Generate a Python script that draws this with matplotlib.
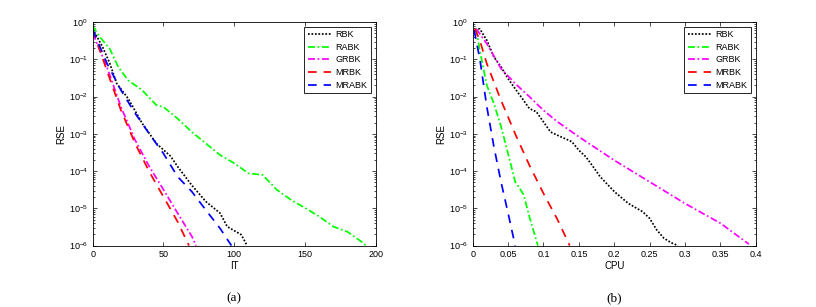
"""RSE 수렴 곡선 재현 — (a) 반복 횟수(IT), (b) CPU 시간 기준 5개 방법 비교."""

import matplotlib
matplotlib.use("Agg")
import matplotlib.pyplot as plt
import numpy as np

METHODS = ["RBK", "RABK", "GRBK", "MRBK", "MRABK"]

# (a) IT 축 — 각 방법의 (반복, log10 RSE) 판독값
rbk_it = [0, 7, 12, 17, 25, 35, 45, 55, 60, 70, 80, 90, 95, 105, 109]
rbk_it_y = [-0.18, -0.67, -1.1, -1.65, -2.05, -2.72, -3.26, -3.6, -3.88, -4.38, -4.82, -5.13, -5.49, -5.71, -6.0]
rabk_it = [0, 5, 12, 18, 25, 35, 45, 50, 60, 70, 80, 90, 100, 110, 120, 130, 140, 150, 160, 170, 180, 190, 193]
rabk_it_y = [-0.1, -0.4, -0.71, -1.2, -1.56, -1.83, -2.23, -2.28, -2.59, -2.95, -3.26, -3.57, -3.79, -4.06,
             -4.1, -4.5, -4.77, -4.99, -5.22, -5.49, -5.63, -5.9, -6.0]
grbk_it = [0, 10, 20, 30, 40, 50, 60, 70, 73]
grbk_it_y = [-0.3, -1.2, -2.28, -3.17, -3.88, -4.5, -5.13, -5.75, -6.0]
mrbk_it = [0, 10, 20, 30, 40, 50, 60, 68]
mrbk_it_y = [-0.2, -1.3, -2.37, -3.26, -4.02, -4.69, -5.36, -6.0]
mrabk_it = [0, 10, 20, 30, 40, 50, 60, 70, 80, 90, 98]
mrabk_it_y = [-0.2, -1.1, -1.83, -2.45, -3.0, -3.53, -4.15, -4.55, -5.05, -5.54, -6.0]

# (b) CPU 축
rbk_cpu = [0.003, 0.01, 0.02, 0.03, 0.04, 0.05, 0.06, 0.07, 0.08, 0.09, 0.1, 0.11, 0.12, 0.14, 0.15,
           0.16, 0.17, 0.18, 0.2, 0.22, 0.24, 0.25, 0.26, 0.27, 0.28, 0.29]
rbk_cpu_y = [-0.2, -0.18, -0.49, -0.94, -1.2, -1.52, -1.79, -2.05, -2.32, -2.41, -2.68, -2.95, -3.04,
             -3.21, -3.44, -3.62, -3.88, -4.15, -4.55, -4.87, -5.09, -5.27, -5.58, -5.8, -5.92, -6.0]
rabk_cpu = [0.005, 0.01, 0.02, 0.03, 0.04, 0.05, 0.06, 0.065, 0.072, 0.08, 0.092]
rabk_cpu_y = [-0.18, -0.76, -1.7, -2.19, -2.8, -3.53, -4.29, -4.42, -4.64, -5.22, -6.0]
grbk_cpu = [0.005, 0.02, 0.04, 0.06, 0.08, 0.1, 0.12, 0.15, 0.2, 0.25, 0.3, 0.35, 0.39]
grbk_cpu_y = [-0.18, -0.58, -1.25, -1.65, -2.0, -2.37, -2.68, -3.08, -3.71, -4.29, -4.87, -5.4, -5.96]
mrbk_cpu = [0.003, 0.01, 0.02, 0.04, 0.06, 0.08, 0.1, 0.12, 0.137]
mrbk_cpu_y = [-0.18, -0.49, -1.12, -2.1, -3.0, -3.84, -4.6, -5.31, -6.0]
mrabk_cpu = [0.002, 0.01, 0.02, 0.03, 0.04, 0.05, 0.06]
mrabk_cpu_y = [-0.22, -0.98, -2.28, -3.35, -4.29, -5.13, -6.0]

STYLES = {
    "RBK": dict(color="black", linestyle=(0, (1, 1))),
    "RABK": dict(color="#00ff00", linestyle=(0, (4, 1.5, 1, 1.5))),
    "GRBK": dict(color="magenta", linestyle=(0, (4, 1.5, 1, 1.5))),
    "MRBK": dict(color="red", linestyle=(0, (5, 4))),
    "MRABK": dict(color="blue", linestyle=(0, (5, 4))),
}

plt.rcParams["font.family"] = ["Liberation Sans", "DejaVu Sans"]
plt.rcParams["font.size"] = 6.5


def panel(ax, series, xlim, xticks, xlabel, caption):
    for name, (xs, ys) in zip(METHODS, series):
        ax.plot(xs, 10 ** np.array(ys), lw=1.25, label=name, **STYLES[name])
    ax.set_yscale("log")
    ax.set_xlim(*xlim)
    ax.set_ylim(1e-6, 1)
    ax.set_xticks(xticks)
    ax.set_xticklabels([f"{t:g}" for t in xticks])
    ax.set_yticks([10.0 ** k for k in range(-6, 1)])
    ax.tick_params(which="both", direction="in", top=True, right=True, labelsize=6.5, width=0.5)
    ax.tick_params(which="major", length=3)
    ax.tick_params(which="minor", length=1.5)
    for s in ax.spines.values():
        s.set_linewidth(0.6)
    ax.set_xlabel(xlabel, labelpad=1, fontsize=7)
    ax.set_ylabel("RSE", labelpad=2, fontsize=7)
    leg = ax.legend(loc="upper right", fontsize=6.5, handlelength=2.6, borderaxespad=0.5,
                    fancybox=False, framealpha=1, edgecolor="black", labelspacing=0.4,
                    handletextpad=0.5, borderpad=0.4)
    leg.get_frame().set_linewidth(0.6)
    ax.text(0.5, -0.235, caption, transform=ax.transAxes, ha="center", va="center",
            family="Liberation Serif", fontsize=9.5)


fig = plt.figure(figsize=(8.16, 3.07), dpi=100)
ax1 = fig.add_axes([0.1136, 0.2, 0.347, 0.728])
ax2 = fig.add_axes([0.5793, 0.2, 0.347, 0.728])

panel(ax1, [(rbk_it, rbk_it_y), (rabk_it, rabk_it_y), (grbk_it, grbk_it_y),
            (mrbk_it, mrbk_it_y), (mrabk_it, mrabk_it_y)],
      (0, 200), [0, 50, 100, 150, 200], "IT", "(a)")
panel(ax2, [(rbk_cpu, rbk_cpu_y), (rabk_cpu, rabk_cpu_y), (grbk_cpu, grbk_cpu_y),
            (mrbk_cpu, mrbk_cpu_y), (mrabk_cpu, mrabk_cpu_y)],
      (0, 0.4), [0, 0.05, 0.1, 0.15, 0.2, 0.25, 0.3, 0.35, 0.4], "CPU", "(b)")

fig.savefig("out.png", dpi=100)
